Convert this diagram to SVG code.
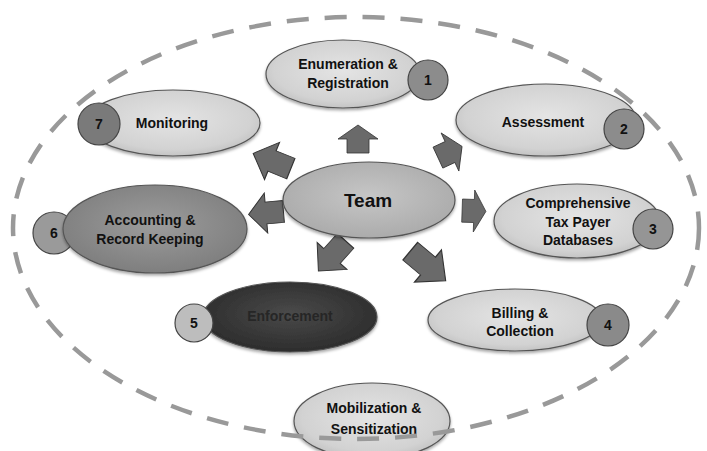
<svg xmlns="http://www.w3.org/2000/svg" width="707" height="451" viewBox="0 0 707 451">
  <defs>
    <radialGradient id="gLight" cx="50%" cy="45%" r="60%">
      <stop offset="0" stop-color="#e4e4e4"/>
      <stop offset="0.75" stop-color="#d2d2d2"/>
      <stop offset="1" stop-color="#bdbdbd"/>
    </radialGradient>
    <radialGradient id="gTeam" cx="50%" cy="45%" r="60%">
      <stop offset="0" stop-color="#c6c6c6"/>
      <stop offset="1" stop-color="#a9a9a9"/>
    </radialGradient>
    <radialGradient id="gMid" cx="50%" cy="45%" r="60%">
      <stop offset="0" stop-color="#9c9c9c"/>
      <stop offset="1" stop-color="#7c7c7c"/>
    </radialGradient>
    <radialGradient id="gDark" cx="50%" cy="45%" r="60%">
      <stop offset="0" stop-color="#4a4a4a"/>
      <stop offset="1" stop-color="#2a2a2a"/>
    </radialGradient>
    <filter id="shadow" x="-20%" y="-20%" width="140%" height="150%">
      <feDropShadow dx="0" dy="2" stdDeviation="1.5" flood-color="#000" flood-opacity="0.35"/>
    </filter>
    <polygon id="blockArrow" points="-14,-11 0,-11 0,-20 14,0 0,20 0,11 -14,11"/>
  </defs>
  <style>
    .label { font-family: "Liberation Sans", Arial, sans-serif; font-weight: bold; font-size: 14px; fill: #111; text-anchor: middle; }
    .team { font-size: 19px; }
    .dim { fill: #262626; }
    .node { stroke: #555; stroke-width: 1.2; filter: url(#shadow); }
    .badge { stroke: #444; stroke-width: 1.2; }
    .arrow { fill: #6a6a6a; stroke: #333; stroke-width: 0.8; stroke-linejoin: miter; }
    .ring { fill: none; stroke: #999; stroke-width: 4.5; stroke-dasharray: 22 16; }
  </style>

  <rect width="707" height="451" fill="#ffffff"/>

  <g id="mobilization">
    <ellipse class="node" cx="372" cy="421" rx="78" ry="38" fill="url(#gLight)"/>
    <text class="label" x="374" y="413">Mobilization &amp;</text>
    <text class="label" x="374" y="434">Sensitization</text>
  </g>

  <!-- outer dashed boundary -->
  <ellipse class="ring" cx="356" cy="228" rx="343" ry="211"/>

  <!-- spokes from the team to each activity -->
  <g id="connectors">
    <use href="#blockArrow" class="arrow" transform="translate(358,139) rotate(-90)"/>
    <use href="#blockArrow" class="arrow" transform="translate(272,161) rotate(-158) scale(1.45,1)"/>
    <use href="#blockArrow" class="arrow" transform="translate(266,213) rotate(175) scale(1.25,1)"/>
    <use href="#blockArrow" class="arrow" transform="translate(332,256) rotate(132) scale(1.45,1)"/>
    <use href="#blockArrow" class="arrow" transform="translate(428,266) rotate(40) scale(1.65,1.05)"/>
    <use href="#blockArrow" class="arrow" transform="translate(474,211) rotate(2) scale(0.85,1.05)"/>
    <use href="#blockArrow" class="arrow" transform="translate(450,152) rotate(-25) scale(0.95,1.05)"/>
  </g>

  <g id="team">
    <ellipse class="node" cx="369" cy="200" rx="86" ry="38" fill="url(#gTeam)"/>
    <text class="label team" x="368" y="207">Team</text>
  </g>

  <g id="enumeration">
    <ellipse class="node" cx="343" cy="74" rx="77" ry="34" fill="url(#gLight)"/>
    <circle class="badge" cx="428" cy="80" r="20" fill="#8c8c8c"/>
    <text class="label" x="348" y="69">Enumeration &amp;</text>
    <text class="label" x="348" y="88">Registration</text>
    <text class="label" x="428" y="85">1</text>
  </g>

  <g id="assessment">
    <ellipse class="node" cx="546" cy="120" rx="90" ry="36" fill="url(#gLight)"/>
    <circle class="badge" cx="624" cy="129" r="20" fill="#8c8c8c"/>
    <text class="label" x="543" y="127">Assessment</text>
    <text class="label" x="624" y="134">2</text>
  </g>

  <g id="databases">
    <ellipse class="node" cx="577" cy="221" rx="83" ry="37" fill="url(#gLight)"/>
    <circle class="badge" cx="653" cy="229" r="20" fill="#959595"/>
    <text class="label" x="578" y="208">Comprehensive</text>
    <text class="label" x="578" y="227">Tax Payer</text>
    <text class="label" x="578" y="245">Databases</text>
    <text class="label" x="653" y="234">3</text>
  </g>

  <g id="billing">
    <ellipse class="node" cx="515" cy="320" rx="87" ry="31" fill="url(#gLight)"/>
    <circle class="badge" cx="608" cy="325" r="21" fill="#8a8a8a"/>
    <text class="label" x="520" y="318">Billing &amp;</text>
    <text class="label" x="520" y="336">Collection</text>
    <text class="label" x="608" y="330">4</text>
  </g>

  <g id="enforcement">
    <ellipse class="node" cx="290" cy="317" rx="87" ry="35" fill="url(#gDark)" stroke="#222"/>
    <circle class="badge" cx="194" cy="323" r="19" fill="#bdbdbd"/>
    <text class="label dim" x="290" y="321">Enforcement</text>
    <text class="label" x="194" y="328">5</text>
  </g>

  <g id="accounting">
    <circle class="badge" cx="54" cy="233" r="21" fill="#9a9a9a"/>
    <ellipse class="node" cx="155" cy="229" rx="92" ry="44" fill="url(#gMid)"/>
    <text class="label" x="150" y="225">Accounting &amp;</text>
    <text class="label" x="150" y="244">Record Keeping</text>
    <text class="label" x="54" y="238">6</text>
  </g>

  <g id="monitoring">
    <ellipse class="node" cx="173" cy="123" rx="87" ry="33" fill="url(#gLight)"/>
    <circle class="badge" cx="99" cy="124" r="21" fill="#7a7a7a"/>
    <text class="label" x="172" y="128">Monitoring</text>
    <text class="label" x="99" y="129">7</text>
  </g>
</svg>
